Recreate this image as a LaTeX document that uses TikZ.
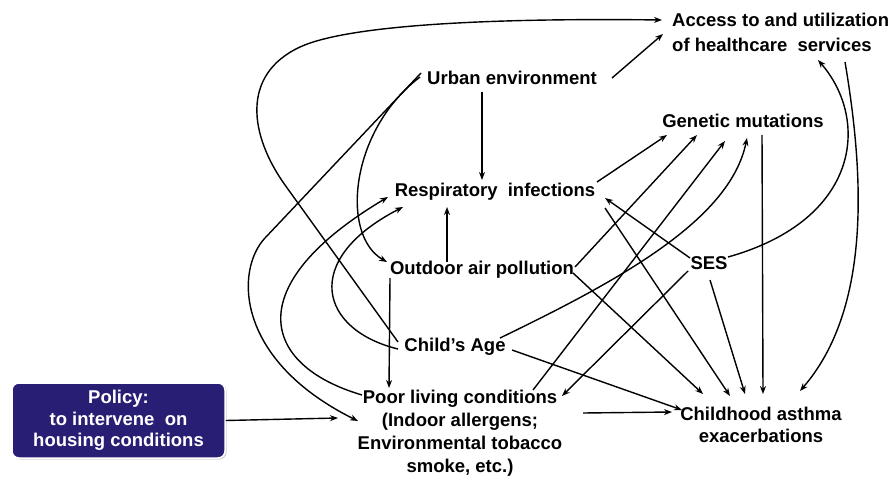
\documentclass[tikz,border=0pt]{standalone}
\usepackage{fontspec}
\setmainfont{Liberation Sans}
\usetikzlibrary{arrows.meta,shadows}
\definecolor{navy}{RGB}{40,30,115}
\begin{document}
\begin{tikzpicture}[x=1pt,y=-1pt,
  lbl/.style={inner sep=0pt,font=\bfseries\fontsize{18.5}{23}\selectfont,align=center},
  arr/.style={line width=1.4pt,-{Stealth[length=8pt,width=6pt]}},
  pbox/.style={rounded corners=7pt,fill=navy,draw=white,line width=1.5pt,
    drop shadow={opacity=0.35,shadow xshift=1.5pt,shadow yshift=-1.5pt},
    minimum width=213pt,minimum height=75pt,inner sep=0pt,text=white,
    font=\bfseries\fontsize{18.5}{21.5}\selectfont,align=center}]
\useasboundingbox (0,0) rectangle (893,476);
\fill[white] (0,0) rectangle (893,476);

\node[lbl,align=left,anchor=west,font=\bfseries\fontsize{18.5}{25}\selectfont] (access) at (672,32) {Access to and utilization\\of healthcare\ \ services};
\node[lbl] (urban) at (512,78) {Urban environment};
\node[lbl] (gen) at (743,121) {Genetic mutations};
\node[lbl] (resp) at (495,192) {Respiratory\ \ infections};
\node[lbl] (out) at (482,270) {Outdoor air pollution};
\node[lbl] (ses) at (709,263) {SES};
\node[lbl] (child) at (455,347) {Child’s Age};
\node[lbl] (poor) at (460,433) {Poor living conditions\\(Indoor allergens;\\Environmental tobacco\\smoke, etc.)};
\node[lbl,font=\bfseries\fontsize{18.5}{22}\selectfont] (asth) at (761,425) {Childhood asthma\\exacerbations};
\node[pbox] (policy) at (118.5,420.5) {Policy:\\to intervene\ \ on\\housing conditions};

% Urban
\draw[arr] ([shift={(100,0)}]urban.center) -- ([shift={(-9,2)}]access.west);
\draw[arr] ([shift={(-30,14)}]urban.center) -- ([shift={(-13,-12)}]resp.center);
\draw[arr] ([shift={(-92,-1)}]urban.center) .. controls (350,130) and (340,235) .. ([shift={(-95,-8)}]out.center);
\draw[arr] ([shift={(-91,-5)}]urban.center) -- (265,238) .. controls (235,270) and (235,360) .. ([shift={(-102,-12)}]poor.center);

% Child's Age
\draw[arr] ([shift={(-57,-5)}]child.center) -- (285,185) .. controls (250,136) and (240,75) .. (300,47) .. controls (350,24) and (500,18) .. ([shift={(-10,-12)}]access.west);
\draw[arr] ([shift={(-57,2)}]child.center) .. controls (320,330) and (300,260) .. ([shift={(-92,15)}]resp.center);
\draw[arr] ([shift={(45,-9)}]child.center) .. controls (620,280) and (730,220) .. ([shift={(4,17)}]gen.center);
\draw[arr] ([shift={(57,3)}]child.center) -- ([shift={(-79,-15)}]asth.center);

% Poor living conditions
\draw[arr] ([shift={(-98,-38)}]poor.center) .. controls (260,365) and (240,285) .. ([shift={(-107,5)}]resp.center);
\draw[arr] ([shift={(73,-43)}]poor.center) -- ([shift={(-18,20)}]gen.center);
\draw[arr] ([shift={(123,-20)}]poor.center) -- ([shift={(-89,-13)}]asth.center);

% Outdoor air pollution
\draw[arr] ([shift={(-35,-8)}]out.center) -- ([shift={(-48,15)}]resp.center);
\draw[arr] ([shift={(-92,8)}]out.center) -- ([shift={(-71,-45)}]poor.center);
\draw[arr] ([shift={(93,-3)}]out.center) -- ([shift={(-46,14)}]gen.center);
\draw[arr] ([shift={(91,3)}]out.center) -- ([shift={(-58,-31)}]asth.center);

% Respiratory infections
\draw[arr] ([shift={(102,-10)}]resp.center) -- ([shift={(-76,14)}]gen.center);
\draw[arr] ([shift={(110,16)}]resp.center) -- ([shift={(-31,-29)}]asth.center);

% SES
\draw[arr] ([shift={(-19,-5)}]ses.center) -- ([shift={(110,6)}]resp.center);
\draw[arr] ([shift={(-21,8)}]ses.center) -- ([shift={(102,-37)}]poor.center);
\draw[arr] ([shift={(19,-6)}]ses.center) .. controls (860,220) and (870,120) .. ([shift={(146,28)}]access.west);
\draw[arr] ([shift={(1,17)}]ses.center) -- ([shift={(-16,-31)}]asth.center);

% Genetic mutations, Access
\draw[arr] ([shift={(19,14)}]gen.center) -- ([shift={(2,-31)}]asth.center);
\draw[arr] ([shift={(173,30)}]access.west) .. controls (865,180) and (870,310) .. ([shift={(39,-34)}]asth.center);

% Policy
\draw[arr] (policy.east) -- ([shift={(-122,-15)}]poor.center);
\end{tikzpicture}
\end{document}
